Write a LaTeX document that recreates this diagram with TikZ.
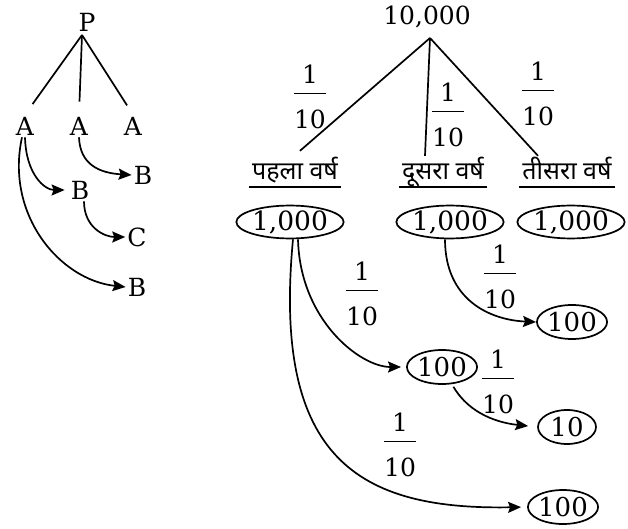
\documentclass[tikz,border=0pt]{standalone}
\usepackage{fontspec}
\setmainfont{DejaVu Serif}
\newfontfamily\deva[Script=Devanagari]{Noto Sans}
\usetikzlibrary{shapes.geometric,arrows.meta,calc}
\setlength\arrayrulewidth{1.5pt}
\newcommand\myfr{\begin{tabular}{@{}c@{}}1\\\hline\rule{0pt}{34pt}10\end{tabular}}
\begin{document}
\begin{tikzpicture}[x=1pt,y=-1pt,
  txt/.style={font=\fontsize{25}{30}\selectfont, inner sep=2pt},
  ov/.style={ellipse, draw, line width=1.7pt, minimum width=93pt, minimum height=31pt, inner sep=0pt, font=\fontsize{26.5}{32}\selectfont},
  ovs/.style={ov, minimum width=58pt, minimum height=34pt, font=\fontsize{26}{30}\selectfont},
  arr/.style={-{Stealth[length=13pt,width=11pt,inset=2pt]}, line width=1.7pt},
  ln/.style={line width=1.7pt},
  yr/.style={font=\deva\fontsize{25}{30}\selectfont, inner xsep=3pt, inner ysep=0pt, text height=17pt, text depth=7pt},
  frc/.style={font=\fontsize{25}{30}\selectfont, inner sep=0pt}]
\useasboundingbox (0,0) rectangle (628,529);
% left tree
\node[txt] (P) at (87,22) {P};
\node[txt] (A1) at (25,126) {A};
\node[txt] (A2) at (79,126) {A};
\node[txt] (A3) at (133,126) {A};
\node[txt] (B1) at (143,175) {B};
\node[txt] (B2) at (80,190) {B};
\node[txt] (C) at (137,237) {C};
\node[txt] (B3) at (137,287) {B};
\coordinate (p0) at (82,35);
\draw[ln,shorten >=13pt] (p0) -- (A1.north);
\draw[ln,shorten >=13pt] (p0) -- (A2.north);
\draw[ln,shorten >=11pt] (p0) -- (A3.north);
\draw[arr] (A2.south) .. controls (80,165) and (100,173) .. (B1.west);
\draw[arr,shorten >=4pt] (A1.south) .. controls (26,175) and (45,190) .. (B2.west);
\draw[arr] ([xshift=4pt]B2.south) .. controls (84,228) and (105,237) .. (C.west);
\draw[arr] ([xshift=-3pt]A1.south) .. controls (5,215) and (60,280) .. (B3.west);
% right tree
\node[txt] (T) at (427,17) {10,000};
\coordinate (apex) at (430,38);
\node[yr] (L1) at (295,175) {पहला वर्ष};
\node[yr] (L2) at (443,175) {दूसरा वर्ष};
\node[yr] (L3) at (567,175) {तीसरा वर्ष};
\draw[ln] (L1.south west) -- (L1.south east);
\draw[ln] (L2.south west) -- (L2.south east);
\draw[ln] (L3.south west) -- (L3.south east);
\draw[ln] (apex) -- ($(L1.north)+(5,-12)$);
\draw[ln] (apex) -- ($(L2.north)+(-18,-7)$);
\draw[ln] (apex) -- ($(L3.north)+(-29,-7)$);
\node[frc] (fa) at (310,100) {\myfr};
\node[frc] (fb) at (448,118) {\myfr};
\node[frc] (fc) at (538,97) {\myfr};
\node[ov] (E1) at (290,222) {1,000};
\node[ov] (E2) at (450,222) {1,000};
\node[ov, minimum width=90pt] (E3) at (571,222) {1,000};
\node[ovs] (F1) at (442,367) {100};
\node[ovs] (F2) at (572,322) {100};
\node[ovs] (F3) at (567,427) {10};
\node[ovs] (F4) at (563,507) {100};
\draw[arr,shorten >=5pt] ([xshift=8pt]E1.south) .. controls (300,320) and (360,367) .. (F1.west);
\draw[arr] ([xshift=-5pt]E2.south) .. controls (445,300) and (490,320) .. (F2.west);
\draw[arr,shorten <=3pt,shorten >=9pt] (F1.-60) .. controls (470,415) and (500,423) .. (F3.west);
\draw[arr,shorten >=6pt] ([xshift=3pt]E1.south) .. controls (272,460) and (360,510) .. (F4.west);
\node[frc] (fd) at (362,297) {\myfr};
\node[frc] (fe) at (500,280) {\myfr};
\node[frc] (ff) at (498,385) {\myfr};
\node[frc] (fg) at (400,448) {\myfr};
\end{tikzpicture}
\end{document}
